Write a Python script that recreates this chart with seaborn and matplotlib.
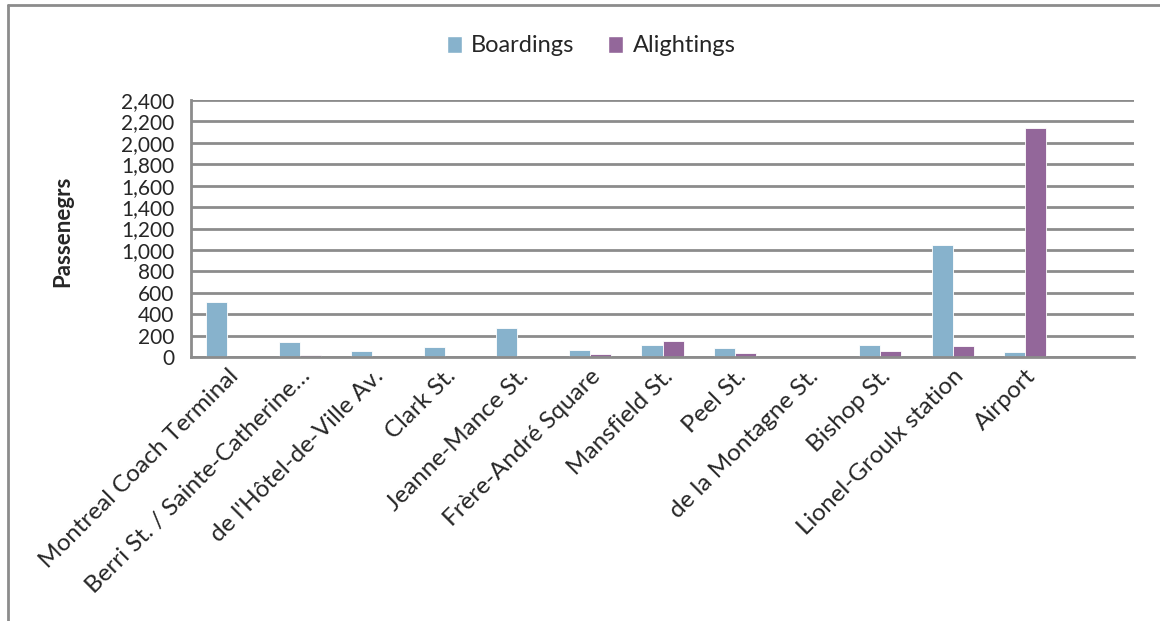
import matplotlib
matplotlib.use("Agg")
import matplotlib.pyplot as plt
import seaborn as sns
import pandas as pd
import numpy as np
from matplotlib.lines import Line2D
from matplotlib.patches import Patch

categories = ["Montreal Coach Terminal", "Berri St. / Sainte-Catherine…",
              "de l'Hôtel-de-Ville Av.", "Clark St.", "Jeanne-Mance St.",
              "Frère-André Square", "Mansfield St.", "Peel St.",
              "de la Montagne St.", "Bishop St.", "Lionel-Groulx station", "Airport"]
boardings = [512, 140, 56, 93, 270, 65, 115, 88, 0, 113, 1042, 50]
alightings = [0, 20, 0, 0, 0, 31, 152, 41, 0, 56, 100, 2140]
series_names = ["Boardings", "Alightings"]
colors = ["#87B2CC", "#93679A"]
yticks = list(range(0, 2401, 200))

df = pd.DataFrame({
    "Stop": categories * 2,
    "Series": [series_names[0]] * len(categories) + [series_names[1]] * len(categories),
    "Passengers": boardings + alightings,
})

sns.set_style("white")
plt.rcParams["font.family"] = ["Lato", "DejaVu Sans"]

fig = plt.figure(figsize=(11.6, 6.21), dpi=100)
ax = fig.add_axes([191/1160, 1 - 357/621, (1134-191)/1160, (357-100)/621])

sns.barplot(data=df, x="Stop", y="Passengers", hue="Series", order=categories,
            hue_order=series_names, palette=colors, width=0.58, ax=ax,
            edgecolor="white", linewidth=0.6, legend=False, saturation=1)

ax.set_xlim(-0.5, 12.5)
ax.set_ylim(0, 2400)
ax.set_yticks(yticks)
ax.set_yticklabels([f"{v:,}" for v in yticks], fontsize=15)
ax.yaxis.grid(True, color="#8c8c8c", linewidth=2)
ax.set_axisbelow(True)

ax.set_xticks(range(len(categories)))
ax.set_xticklabels(categories, rotation=45, ha="right", rotation_mode="anchor", fontsize=17.5)
ax.tick_params(axis="x", which="major", length=0, pad=6)
ax.set_xticks(np.arange(-0.5, 12.6, 1), minor=True)
ax.tick_params(axis="x", which="minor", length=8, width=2, color="#8c8c8c", direction="out")
ax.tick_params(axis="y", length=4, width=2, color="#8c8c8c", direction="out", pad=8)

for s in ["top", "right"]:
    ax.spines[s].set_visible(False)
for s in ["left", "bottom"]:
    ax.spines[s].set_color("#8c8c8c")
    ax.spines[s].set_linewidth(2)

ax.set_xlabel("")
ax.set_ylabel("Passenegrs", fontsize=16, fontweight="bold")
ax.yaxis.set_label_coords((73 - 191) / 943, 0.49)

handles = [Patch(facecolor=c, edgecolor="white", label=n) for c, n in zip(colors, series_names)]
fig.legend(handles=handles, loc="center", bbox_to_anchor=(591/1160, 1 - 46/621), ncol=2,
           frameon=False, fontsize=17, handlelength=0.65, handleheight=0.75,
           handletextpad=0.4, columnspacing=1.4)

# outer chart border (top and left visible)
fig.add_artist(Line2D([8/1160, 1.0], [1 - 5/621, 1 - 5/621], color="#8c8c8c", linewidth=2,
                      transform=fig.transFigure))
fig.add_artist(Line2D([8/1160, 8/1160], [0, 1 - 5/621], color="#8c8c8c", linewidth=2,
                      transform=fig.transFigure))

fig.savefig("out.png", dpi=100, facecolor="white")
